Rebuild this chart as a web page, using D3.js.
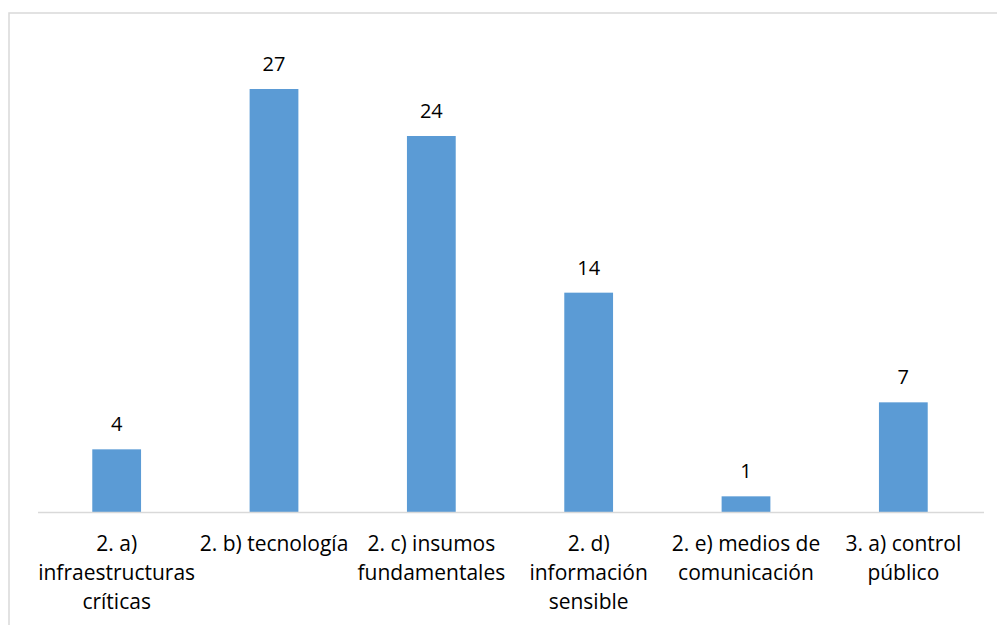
<!DOCTYPE html>
<html>
<head>
<meta charset="utf-8">
<script src="https://cdn.jsdelivr.net/npm/d3@7"></script>
<style>
  body { margin: 0; background: #fff; }
  text { font-family: "Open Sans", Lato, sans-serif; fill: #000; }
</style>
</head>
<body>
<div id="chart"></div>
<script>
var categories = [
  ["2. a)", "infraestructuras", "críticas"],
  ["2. b) tecnología"],
  ["2. c) insumos", "fundamentales"],
  ["2. d)", "información", "sensible"],
  ["2. e) medios de", "comunicación"],
  ["3. a) control", "público"]
];
var values = [4, 27, 24, 14, 1, 7];

var svgWidth = 997;
var svgHeight = 625;

var margin = { top: 89, right: 15, bottom: 113, left: 38 };
var width = svgWidth - margin.left - margin.right;
var height = svgHeight - margin.top - margin.bottom;

var svg = d3.select("#chart")
  .append("svg")
  .attr("width", svgWidth)
  .attr("height", svgHeight);

// chart frame
svg.append("rect")
  .attr("x", 9)
  .attr("y", 13)
  .attr("width", 1000)
  .attr("height", 640)
  .attr("fill", "none")
  .attr("stroke", "#d9d9d9")
  .attr("stroke-width", 1.5);

var chartGroup = svg.append("g")
  .attr("transform", `translate(${margin.left}, ${margin.top})`);

var xScale = d3.scaleBand()
  .domain(d3.range(categories.length))
  .range([0, 944])
  .paddingInner(0.69)
  .paddingOuter(0.345);

var yScale = d3.scaleLinear()
  .domain([0, 27])
  .range([height, 0]);

// bars
chartGroup.selectAll("rect.bar")
  .data(values)
  .enter()
  .append("rect")
  .attr("class", "bar")
  .attr("x", (d, i) => xScale(i))
  .attr("y", d => yScale(d))
  .attr("width", xScale.bandwidth())
  .attr("height", d => height - yScale(d))
  .attr("fill", "#5b9bd5");

// baseline
chartGroup.append("line")
  .attr("x1", 0)
  .attr("x2", 946)
  .attr("y1", height + 0.5)
  .attr("y2", height + 0.5)
  .attr("stroke", "#d9d9d9")
  .attr("stroke-width", 1.5);

// value labels
chartGroup.selectAll("text.value")
  .data(values)
  .enter()
  .append("text")
  .attr("class", "value")
  .attr("x", (d, i) => xScale(i) + xScale.bandwidth() / 2)
  .attr("y", d => yScale(d) - 18)
  .attr("text-anchor", "middle")
  .style("font-size", "20px")
  .text(d => d);

// category labels
var labelGroup = chartGroup.selectAll("text.cat")
  .data(categories)
  .enter()
  .append("text")
  .attr("class", "cat")
  .attr("x", (d, i) => xScale(i) + xScale.bandwidth() / 2)
  .attr("y", height + 39)
  .attr("text-anchor", "middle")
  .style("font-size", "21px");

labelGroup.selectAll("tspan")
  .data(d => d)
  .enter()
  .append("tspan")
  .attr("x", function() { return d3.select(this.parentNode).attr("x"); })
  .attr("dy", (d, i) => i === 0 ? 0 : 29)
  .text(d => d);
</script>
</body>
</html>
